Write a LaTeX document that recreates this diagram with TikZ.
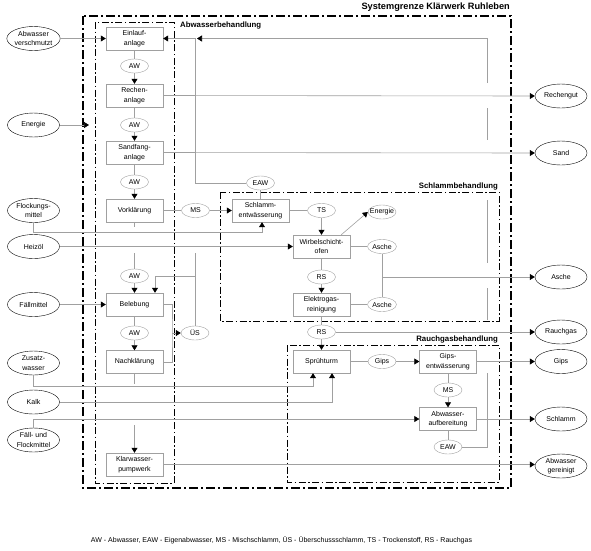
\documentclass[tikz,border=0pt]{standalone}
\usepackage{fontspec}
\setmainfont{Liberation Sans}
\usetikzlibrary{arrows.meta,shapes.geometric}
\definecolor{LinienGrau}{RGB}{160,160,160}

\begin{document}
\begin{tikzpicture}[x=1pt,y=-1pt,font=\fontsize{7}{9.5}\selectfont,
  prc/.style={draw=LinienGrau,rectangle,align=center,minimum width=57pt,minimum height=23pt,inner sep=1pt},
  strm/.style={draw=LinienGrau,ellipse,minimum width=28pt,minimum height=14pt,inner sep=0.5pt},
  ext/.style={draw,ellipse,align=center,minimum width=52pt,minimum height=24pt,inner sep=0pt},
  ln/.style={LinienGrau,line width=0.6pt},
  arr/.style={ln,-{Triangle[length=5pt,width=6pt,color=black]}},
  grenze/.style={line width=1.4pt,dash pattern=on 9pt off 3pt on 2pt off 3pt},
  bereich/.style={line width=0.8pt,dash pattern=on 7pt off 2.5pt on 1.5pt off 2.5pt},
  titel/.style={font=\fontsize{7.8}{9}\selectfont\bfseries,inner sep=0pt}]
\useasboundingbox (0,0) rectangle (591,550);
% Systemgrenze und Bereiche
\draw[grenze] (83,16) rectangle (511,488);
\node[titel,font=\fontsize{9.2}{11}\selectfont\bfseries,anchor=south east] at (510,12) {Systemgrenze Klärwerk Ruhleben};
\draw[bereich] (95,22) rectangle (174,483);
\node[titel,anchor=west] at (180,25.5) {Abwasserbehandlung};
\draw[bereich] (220,192) rectangle (499,321);
\node[titel,anchor=south east] at (498,190) {Schlammbehandlung};
\draw[bereich] (287,345) rectangle (499,482);
\node[titel,anchor=south east] at (498,343) {Rauchgasbehandlung};
% Verfahrensstufen
\node[prc] (einlauf) at (134.5,38.5) {Einlauf-\\anlage};
\node[prc] (rechen) at (134.5,95.5) {Rechen-\\anlage};
\node[prc] (sandfang) at (134.5,152.5) {Sandfang-\\anlage};
\node[prc] (vorkl) at (134.5,210.5) {Vorklärung};
\node[prc] (beleb) at (134.5,304.5) {Belebung};
\node[prc] (nachkl) at (134.5,362) {Nachklärung};
\node[prc] (klarw) at (134.5,464.5) {Klarwasser-\\pumpwerk};
\node[prc] (schlent) at (260.5,210.5) {Schlamm-\\entwässerung};
\node[prc] (wso) at (321.5,246.5) {Wirbelschicht-\\ofen};
\node[prc] (egr) at (321.5,304.5) {Elektrogas-\\reinigung};
\node[prc] (spruehturm) at (321.5,361.5) {Sprühturm};
\node[prc] (gipsent) at (448,361.5) {Gips-\\entwässerung};
\node[prc] (awauf) at (448,419) {Abwasser-\\aufbereitung};
% Stoffstroeme
\foreach \n/\y in {1/66,2/125,3/182,4/276,5/333}
   \node[strm] (aw\n) at (134.5,\y) {AW};
\node[strm] (eaw1) at (260.5,183) {EAW};
\node[strm] (ms1) at (195.5,210.5) {MS};
\node[strm] (ts) at (321.5,210.5) {TS};
\node[strm,inner xsep=-3pt] (energie2) at (382,212) {Energie};
\node[strm] (asche1) at (382,246.5) {Asche};
\node[strm] (rs1) at (321.5,277) {RS};
\node[strm] (asche2) at (382,304.5) {Asche};
\node[strm] (rs2) at (321.5,332) {RS};
\node[strm] (ues) at (195,333) {ÜS};
\node[strm] (gips1) at (382,361.5) {Gips};
\node[strm] (ms2) at (448,390) {MS};
\node[strm] (eaw2) at (448,447) {EAW};
% Eingaenge und Ausgaenge
\node[ext] (abw) at (33.5,38.5) {Abwasser\\verschmutzt};
\node[ext] (energie) at (33.5,125) {Energie};
\node[ext] (flock) at (33.5,210.5) {Flockungs-\\mittel};
\node[ext] (heizoel) at (33.5,246.5) {Heizöl};
\node[ext] (faellm) at (33.5,304.5) {Fällmittel};
\node[ext] (zusatz) at (33.5,363) {Zusatz-\\wasser};
\node[ext] (kalk) at (33.5,402) {Kalk};
\node[ext] (ffm) at (33.5,440) {Fäll- und\\Flockmittel};
\node[ext] (rechengut) at (561,96) {Rechengut};
\node[ext] (sand) at (561,153) {Sand};
\node[ext] (asche) at (561,277) {Asche};
\node[ext] (rauchgas) at (561,332) {Rauchgas};
\node[ext] (gipsout) at (561,361.5) {Gips};
\node[ext] (schlamm) at (561,419) {Schlamm};
\node[ext] (abwgr) at (561,466) {Abwasser\\gereinigt};
\coordinate (energieIn) at (89,125);
\coordinate (eawEin) at (195,38.5);
\coordinate (eawRueck) at (487,83);
\coordinate (flockj) at (262,232);
\coordinate (zusj) at (313,386);
\coordinate (kalkj) at (332,402);
\coordinate (uesj) at (172,333);
% Abwasserstrang
\draw[arr] (abw.east) -- (einlauf.west);
\draw[arr] (energie.east) -- (energieIn);
\foreach \von/\st/\nach in {einlauf/aw1/rechen,rechen/aw2/sandfang,sandfang/aw3/vorkl,beleb/aw5/nachkl} {
   \draw[ln] (\von.south) -- (\st.north);
   \draw[arr] (\st.south) -- (\nach.north);
}
\draw[ln] (vorkl.south) -- ++(0,5);
\draw[ln] (134.5,253) -- (aw4.north);
\draw[arr] (aw4.south) -- (beleb.north);
\draw[ln] (nachkl.south) -- ++(0,10);
\draw[arr] (134.5,425) -- (klarw.north);
\draw[arr] (rechen.east) -- (rechengut.west);
\draw[arr] (sandfang.east) -- (sand.west);
\draw[arr] (klarw.east) -- (klarw.east -| abwgr.west);
\draw[arr] (faellm.east) -- (beleb.west);
% Schlamm
\draw[ln] (beleb.east) -| (uesj) |- (nachkl.east);
\draw[arr] (uesj) -- (ues.west);
\draw[ln] (ues.north) -- (195,253);
\draw[arr] (195,276) -| ([xshift=20.5pt]beleb.north);
\draw[ln] (vorkl.east) -- (ms1.west);
\draw[arr] (ms1.east) -- (schlent.west);
\draw[ln] (schlent.north) -- (eaw1.south);
\draw[arr] (eaw1.west) -| (eawEin) -- (einlauf.east);
\draw[arr] (flock.south) |- (flockj) -- (flockj |- schlent.south);
\draw[ln] (schlent.east) -- (ts.west);
\draw[arr] (ts.south) -- (wso.north);
\draw[arr] (heizoel.east) -- (wso.west);
\draw[arr] ([xshift=-9pt]wso.north east) -- (energie2.west);
\draw[ln] (wso.east) -- (asche1.west);
\draw[ln] (wso.south) -- (rs1.north);
\draw[arr] (rs1.south) -- (egr.north);
\draw[ln] (egr.east) -- (asche2.west);
\draw[ln] (asche1.south) -- (asche2.north);
\draw[arr] (asche1 |- asche.west) -- (asche.west);
% Rauchgas
\draw[ln] (egr.south) -- (rs2.north);
\draw[arr] (rs2.south) -- (spruehturm.north);
\draw[arr] (rs2.east) -- (rauchgas.west);
\draw[arr] (zusatz.south) |- (zusj) -- (zusj |- spruehturm.south);
\draw[arr] (kalk.east) -- (kalkj) -- (kalkj |- spruehturm.south);
\draw[ln] (spruehturm.east) -- (gips1.west);
\draw[arr] (gips1.east) -- (gipsent.west);
\draw[arr] (gipsent.east) -- (gipsout.west);
\draw[ln] (gipsent.south) -- (ms2.north);
\draw[arr] (ms2.south) -- (awauf.north);
\draw[arr] (ffm.north) |- (awauf.west);
\draw[arr] (awauf.east) -- (schlamm.west);
\draw[ln] (awauf.south) -- (eaw2.north);
\draw[ln] (eaw2.east) -| (487,373);
\foreach \oben/\unten in {288/320,200/263,108/140}
   \draw[ln] (487,\oben) -- (487,\unten);
\draw[arr] (eawRueck) |- ([xshift=2pt]eawEin);
% Legende
\node[font=\fontsize{7}{8}\selectfont] (legende) at (281.5,540) {AW - Abwasser, EAW - Eigenabwasser, MS - Mischschlamm, ÜS - Überschussschlamm, TS - Trockenstoff, RS - Rauchgas};
\end{tikzpicture}
\end{document}
